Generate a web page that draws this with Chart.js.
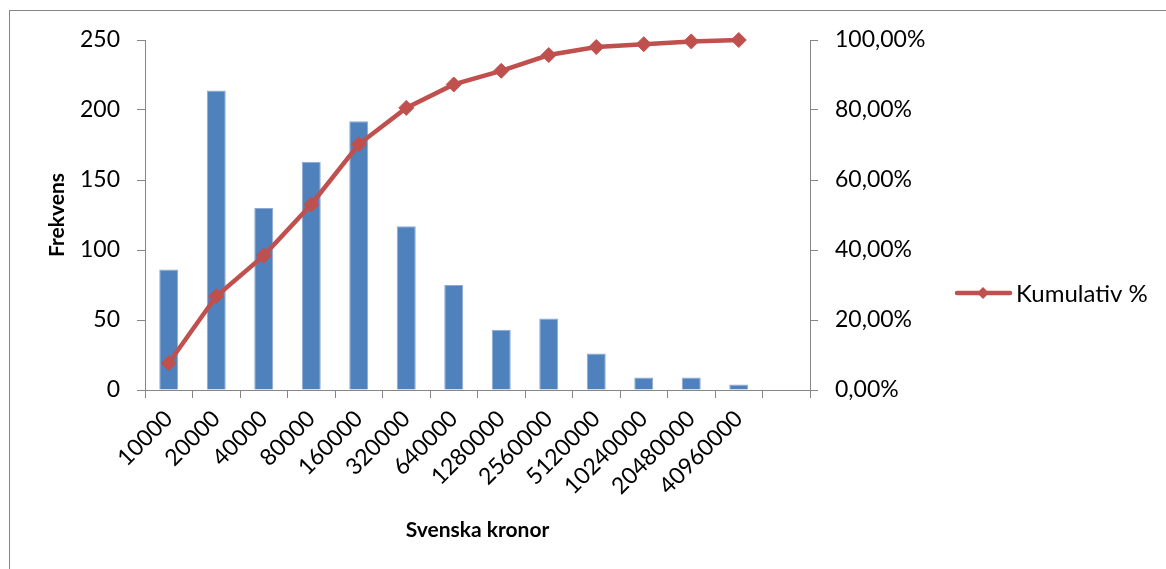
<!DOCTYPE html>
<html lang="sv">
<head>
<meta charset="UTF-8">
<title>Frekvens och kumulativ %</title>
<script src="https://cdn.jsdelivr.net/npm/chart.js"></script>
<style>
  html, body { margin: 0; padding: 0; background: #fff; }
  canvas { display: block; }
</style>
</head>
<body>
<canvas id="diagram" width="1166" height="569"></canvas>
<script>
// Inkomstklasser (kr), sista platsen lämnas tom som i originalet
const kategorier = ['10000', '20000', '40000', '80000', '160000', '320000', '640000',
  '1280000', '2560000', '5120000', '10240000', '20480000', '40960000', ''];
const frekvens = [86, 214, 130, 163, 192, 117, 75, 43, 51, 26, 9, 9, 4, null];
const kumulativ = [7.7, 26.8, 38.4, 53.0, 70.2, 80.6, 87.3, 91.2, 95.7, 98.0, 98.8, 99.6, 100, null];

const BLA = '#4F81BD';
const ROD = '#C0504D';
const GRA = '#868686';
const FONT = 'Lato';

// ram runt diagrammet + egen förklaring med linje och romb
const ramOchForklaring = {
  id: 'ramOchForklaring',
  beforeDraw(chart) {
    const ctx = chart.ctx;
    ctx.save();
    ctx.strokeStyle = GRA;
    ctx.lineWidth = 1;
    ctx.strokeRect(9.5, 10.5, 1200, 600);
    ctx.restore();
  },
  afterDraw(chart) {
    const ctx = chart.ctx;
    const y = 293;
    ctx.save();
    ctx.strokeStyle = ROD;
    ctx.lineWidth = 4.5;
    ctx.lineCap = 'round';
    ctx.beginPath();
    ctx.moveTo(957, y);
    ctx.lineTo(1010, y);
    ctx.stroke();
    ctx.fillStyle = ROD;
    ctx.beginPath();
    ctx.moveTo(983, y - 6);
    ctx.lineTo(989, y);
    ctx.lineTo(983, y + 6);
    ctx.lineTo(977, y);
    ctx.closePath();
    ctx.fill();
    ctx.fillStyle = '#000';
    ctx.font = '24px ' + FONT;
    ctx.textBaseline = 'middle';
    ctx.fillText('Kumulativ %', 1016, y + 1);
    ctx.restore();
  }
};

new Chart(document.getElementById('diagram'), {
  type: 'bar',
  data: {
    labels: kategorier,
    datasets: [
      {
        type: 'line',
        label: 'Kumulativ %',
        data: kumulativ,
        yAxisID: 'y1',
        borderColor: ROD,
        backgroundColor: ROD,
        borderWidth: 4.5,
        tension: 0,
        pointStyle: 'rectRot',
        pointRadius: 7.5,
        pointBorderWidth: 1,
        pointBackgroundColor: ROD,
        pointBorderColor: ROD,
        clip: false,
        order: 0
      },
      {
        label: 'Frekvens',
        data: frekvens,
        yAxisID: 'y',
        backgroundColor: BLA,
        borderColor: '#8EAAD3',
        borderWidth: 1,
        barPercentage: 0.4,
        categoryPercentage: 1,
        order: 1
      }
    ]
  },
  options: {
    responsive: false,
    animation: false,
    layout: { padding: { top: 40, left: 0, right: 0, bottom: 0 } },
    plugins: {
      legend: { display: false },
      tooltip: { enabled: false }
    },
    scales: {
      x: {
        offset: true,
        grid: { offset: true, drawOnChartArea: false, color: GRA, tickLength: 8 },
        border: { color: GRA },
        ticks: {
          autoSkip: false,
          maxRotation: 45,
          minRotation: 45,
          padding: 7,
          color: '#000',
          font: { family: FONT, size: 23 }
        },
        title: {
          display: true,
          text: 'Svenska kronor',
          color: '#000',
          font: { family: FONT, size: 21, weight: 'bold' },
          padding: { bottom: 26 }
        },
        afterFit(s) { s.height = 179; }
      },
      y: {
        position: 'left',
        min: 0,
        max: 250,
        ticks: {
          stepSize: 50,
          padding: 17,
          color: '#000',
          font: { family: FONT, size: 23 }
        },
        grid: { drawOnChartArea: false, color: GRA, tickLength: 8 },
        border: { color: GRA },
        title: {
          display: true,
          text: 'Frekvens',
          color: '#000',
          font: { family: FONT, size: 21, weight: 'bold' },
          padding: { top: 45 }
        },
        afterFit(s) { s.width = 145; }
      },
      y1: {
        position: 'right',
        min: 0,
        max: 100,
        ticks: {
          stepSize: 20,
          padding: 17,
          color: '#000',
          font: { family: FONT, size: 23 },
          callback: v => v.toFixed(2).replace('.', ',') + '%'
        },
        grid: { drawOnChartArea: false, color: GRA, tickLength: 8 },
        border: { color: GRA },
        afterFit(s) { s.width = 356; }
      }
    }
  },
  plugins: [ramOchForklaring]
});
</script>
</body>
</html>
